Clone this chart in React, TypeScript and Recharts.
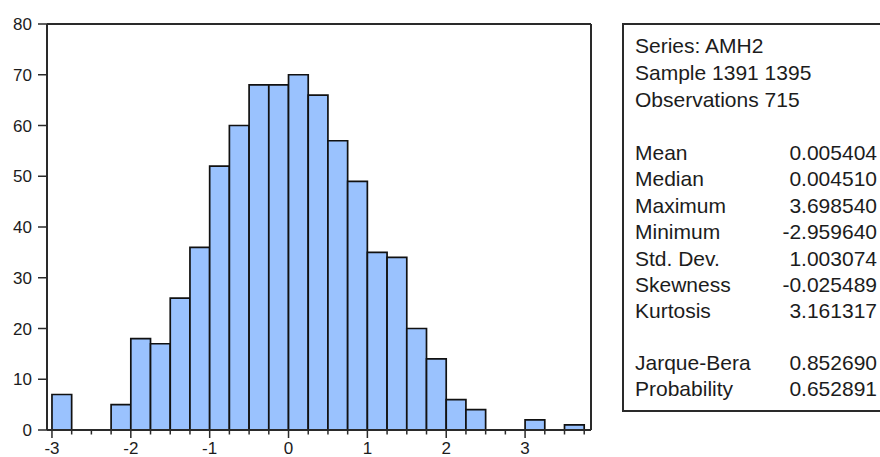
import { ComposedChart, Bar, XAxis, YAxis, ReferenceLine } from 'recharts'

// histogram bins (lower edge) and frequencies
const binStart = [
  -3, -2.75, -2.5, -2.25, -2, -1.75, -1.5, -1.25, -1, -0.75, -0.5, -0.25, 0, 0.25,
  0.5, 0.75, 1, 1.25, 1.5, 1.75, 2, 2.25, 2.5, 2.75, 3, 3.25, 3.5,
]
const counts = [7, 0, 0, 5, 18, 17, 26, 36, 52, 60, 68, 68, 70, 66, 57, 49, 35, 34, 20, 14, 6, 4, 0, 0, 2, 0, 1]
const BIN_WIDTH = 0.25

const xTicks = [
  -3, -2.75, -2.5, -2.25, -2, -1.75, -1.5, -1.25, -1, -0.75, -0.5, -0.25, 0, 0.25,
  0.5, 0.75, 1, 1.25, 1.5, 1.75, 2, 2.25, 2.5, 2.75, 3, 3.25, 3.5, 3.75,
]
const majorTicks = [-3, -2, -1, 0, 1, 2, 3]
const yTicks = [0, 10, 20, 30, 40, 50, 60, 70, 80]

const headerLines = ['Series: AMH2', 'Sample 1391 1395', 'Observations 715']
const statLabels = ['Mean', 'Median', 'Maximum', 'Minimum', 'Std. Dev.', 'Skewness', 'Kurtosis']
const statValues = ['0.005404', '0.004510', '3.698540', '-2.959640', '1.003074', '-0.025489', '3.161317']
const testLabels = ['Jarque-Bera', 'Probability']
const testValues = ['0.852690', '0.652891']

const FONT = '"Liberation Sans", Arial, sans-serif'
const INK = '#1c1c1c'
const AXIS = '#2a2a2a'

const X_MIN = -3.063
const X_MAX = 3.836
const PLOT_LEFT = 47
const PLOT_RIGHT = 591
const pxPerUnit = (PLOT_RIGHT - PLOT_LEFT) / (X_MAX - X_MIN)
// a hair under the band so recharts doesn't fall back to 90% bars
const binPx = BIN_WIDTH * pxPerUnit - 0.02

// bars sit on the bin midpoints of a numeric axis
const data = binStart.map((b, i) => ({ mid: b + BIN_WIDTH / 2, count: counts[i] }))

function XTick({ x, y, payload }: any) {
  const major = majorTicks.includes(payload.value)
  return (
    <g>
      <line x1={x} x2={x} y1={y} y2={y + (major ? 8 : 4.5)} stroke={AXIS} strokeWidth={1.5} />
      {major && (
        <text x={x} y={y + 11.5} dy="0.71em" textAnchor="middle" fontSize={17} fontFamily={FONT} fill={INK}>
          {payload.value}
        </text>
      )}
    </g>
  )
}

export default function App() {
  return (
    <div style={{ position: 'absolute', left: 0, top: 0, width: 880, height: 457, background: '#fff', overflow: 'hidden' }}>
      <ComposedChart
        width={600}
        height={457}
        data={data}
        margin={{ top: 24, right: 600 - PLOT_RIGHT, left: PLOT_LEFT - 40, bottom: 0 }}
        barCategoryGap={0}
        barGap={0}
      >
        <XAxis
          dataKey="mid"
          type="number"
          domain={[X_MIN, X_MAX]}
          allowDataOverflow
          ticks={xTicks}
          interval={0}
          height={27}
          tickSize={0}
          tickMargin={0}
          tickLine={false}
          tick={<XTick />}
          axisLine={{ stroke: AXIS, strokeWidth: 2 }}
        />
        <YAxis
          domain={[0, 80]}
          ticks={yTicks}
          interval={0}
          width={40}
          tickSize={9}
          tickMargin={6}
          tick={{ fontSize: 17, fontFamily: FONT, fill: INK }}
          tickLine={{ stroke: AXIS, strokeWidth: 1.5 }}
          axisLine={{ stroke: AXIS, strokeWidth: 2 }}
        />
        <ReferenceLine y={80} stroke={AXIS} strokeWidth={2} />
        <ReferenceLine x={X_MAX} stroke={AXIS} strokeWidth={2} />
        <Bar
          dataKey="count"
          fill="#9ac2fe"
          stroke="#111"
          strokeWidth={1.7}
          barSize={binPx}
          isAnimationActive={false}
        />
      </ComposedChart>

      <svg width={880} height={457} style={{ position: 'absolute', left: 0, top: 0 }}>
        <rect x={623} y={24} width={280} height={387} fill="none" stroke={AXIS} strokeWidth={2} />
        {headerLines.map((t, i) => (
          <text key={t} x={635} y={53 + i * 27} fontSize={21} fontFamily={FONT} fill={INK}>
            {t}
          </text>
        ))}
        {statLabels.map((t, i) => (
          <g key={t}>
            <text x={635} y={160 + i * 26.4} fontSize={21} fontFamily={FONT} fill={INK}>
              {t}
            </text>
            <text x={877} y={160 + i * 26.4} textAnchor="end" fontSize={21} fontFamily={FONT} fill={INK}>
              {statValues[i]}
            </text>
          </g>
        ))}
        {testLabels.map((t, i) => (
          <g key={t}>
            <text x={635} y={369.5 + i * 26.5} fontSize={21} fontFamily={FONT} fill={INK}>
              {t}
            </text>
            <text x={877} y={369.5 + i * 26.5} textAnchor="end" fontSize={21} fontFamily={FONT} fill={INK}>
              {testValues[i]}
            </text>
          </g>
        ))}
      </svg>
    </div>
  )
}
